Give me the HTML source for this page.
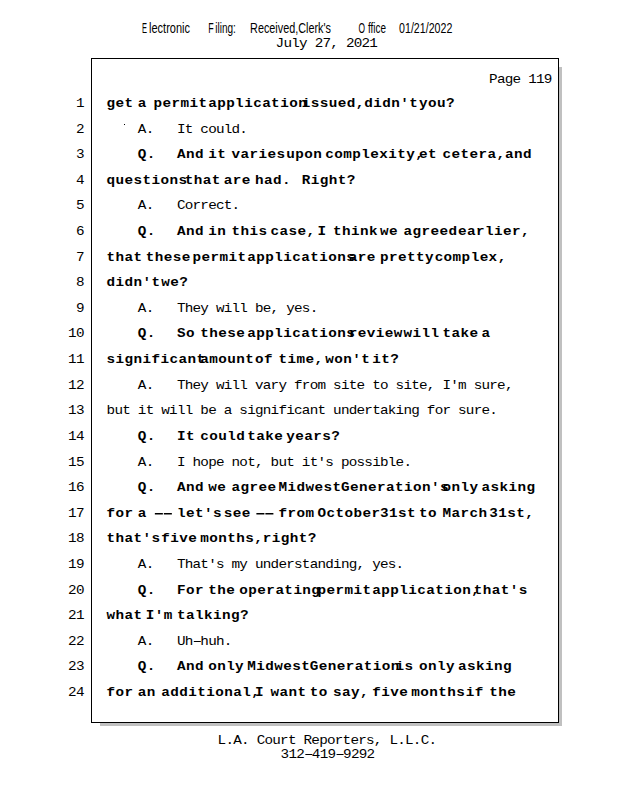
<!DOCTYPE html>
<html><head><meta charset="utf-8"><style>
html,body{margin:0;padding:0;background:#fff;}
body{width:618px;height:800px;overflow:hidden;position:relative;}
svg{position:absolute;left:0;top:0;}
.r{font-family:"Liberation Mono",monospace;font-size:13px;fill:#000;}
.b{font-family:"Liberation Mono",monospace;font-size:13px;font-weight:bold;fill:#000;}
.s{font-family:"Liberation Sans",sans-serif;font-size:14px;fill:#000;}
</style></head><body>
<svg width="618" height="800" viewBox="0 0 618 800">
<rect x="559" y="67" width="3" height="659" fill="#c0c0c0"/>
<rect x="100" y="723" width="462" height="3" fill="#c0c0c0"/>
<rect x="91.5" y="58.5" width="467" height="664" fill="#fff" stroke="#000" stroke-width="1"/>
<text class="s" x="141.9" y="33" textLength="5.0" lengthAdjust="spacingAndGlyphs">E</text>
<text class="s" x="149.0" y="33" textLength="41.0" lengthAdjust="spacingAndGlyphs">lectronic</text>
<text class="s" x="208.3" y="33" textLength="5.4" lengthAdjust="spacingAndGlyphs">F</text>
<text class="s" x="215.3" y="33" textLength="20.6" lengthAdjust="spacingAndGlyphs">iling:</text>
<text class="s" x="250.1" y="33" textLength="80.8" lengthAdjust="spacingAndGlyphs">Received,Clerk's</text>
<text class="s" x="358.5" y="33" textLength="6.5" lengthAdjust="spacingAndGlyphs">O</text>
<text class="s" x="368" y="33" textLength="18" lengthAdjust="spacingAndGlyphs">ffice</text>
<text class="s" x="399.1" y="33" textLength="53.2" lengthAdjust="spacingAndGlyphs">01/21/2022</text>
<rect x="124" y="124" width="1" height="1" fill="#000"/>
<text class="r" transform="scale(1.1,1)" x="69.00" y="107.00">1</text>
<text class="b" transform="scale(1.1,1)" x="96.92 105.10 113.28" y="107.00">get</text>
<text class="b" transform="scale(1.1,1)" x="125.32" y="107.00">a</text>
<text class="b" transform="scale(1.1,1)" x="139.52 147.70 155.88 164.06 172.25 180.43" y="107.00">permit</text>
<text class="b" transform="scale(1.1,1)" x="189.22 197.40 205.58 213.76 221.95 230.13 238.31 246.49 254.67 262.85 271.04" y="107.00">application</text>
<text class="b" transform="scale(1.1,1)" x="274.42 282.60 290.78 298.96 307.15 315.33 323.51" y="107.00">issued,</text>
<text class="b" transform="scale(1.1,1)" x="331.22 339.40 347.58 355.76 363.95 372.13" y="107.00">didn&#x27;t</text>
<text class="b" transform="scale(1.1,1)" x="380.92 389.10 397.28 405.46" y="107.00">you?</text>
<text class="r" transform="scale(1.1,1)" x="69.00" y="133.00">2</text>
<text class="r" transform="scale(1.1,1)" x="125.32 132.42 160.82 167.92 182.12 189.22 196.32 203.42 210.52 217.62" y="133.00">A.Itcould.</text>
<text class="r" transform="scale(1.1,1)" x="69.00" y="158.00">3</text>
<text class="b" transform="scale(1.1,1)" x="125.32 133.50" y="158.00">Q.</text>
<text class="b" transform="scale(1.1,1)" x="160.82 169.00 177.18" y="158.00">And</text>
<text class="b" transform="scale(1.1,1)" x="189.22 197.40" y="158.00">it</text>
<text class="b" transform="scale(1.1,1)" x="210.52 218.70 226.88 235.06 243.25 251.43" y="158.00">varies</text>
<text class="b" transform="scale(1.1,1)" x="260.22 268.40 276.58 284.76" y="158.00">upon</text>
<text class="b" transform="scale(1.1,1)" x="295.72 303.90 312.08 320.26 328.45 336.63 344.81 352.99 361.17 369.35 377.54" y="158.00">complexity,</text>
<text class="b" transform="scale(1.1,1)" x="380.92 389.10" y="158.00">et</text>
<text class="b" transform="scale(1.1,1)" x="402.22 410.40 418.58 426.76 434.95 443.13 451.31" y="158.00">cetera,</text>
<text class="b" transform="scale(1.1,1)" x="459.02 467.20 475.38" y="158.00">and</text>
<text class="r" transform="scale(1.1,1)" x="69.00" y="184.00">4</text>
<text class="b" transform="scale(1.1,1)" x="96.92 105.10 113.28 121.46 129.65 137.83 146.01 154.19 162.37" y="184.00">questions</text>
<text class="b" transform="scale(1.1,1)" x="167.92 176.10 184.28 192.46" y="184.00">that</text>
<text class="b" transform="scale(1.1,1)" x="203.42 211.60 219.78" y="184.00">are</text>
<text class="b" transform="scale(1.1,1)" x="231.82 240.00 248.18 256.36" y="184.00">had.</text>
<text class="b" transform="scale(1.1,1)" x="274.42 282.60 290.78 298.96 307.15 315.33" y="184.00">Right?</text>
<text class="r" transform="scale(1.1,1)" x="69.00" y="209.00">5</text>
<text class="r" transform="scale(1.1,1)" x="125.32 132.42 160.82 167.92 175.02 182.12 189.22 196.32 203.42 210.52" y="209.00">A.Correct.</text>
<text class="r" transform="scale(1.1,1)" x="69.00" y="235.00">6</text>
<text class="b" transform="scale(1.1,1)" x="125.32 133.50" y="235.00">Q.</text>
<text class="b" transform="scale(1.1,1)" x="160.82 169.00 177.18" y="235.00">And</text>
<text class="b" transform="scale(1.1,1)" x="189.22 197.40" y="235.00">in</text>
<text class="b" transform="scale(1.1,1)" x="210.52 218.70 226.88 235.06" y="235.00">this</text>
<text class="b" transform="scale(1.1,1)" x="246.02 254.20 262.38 270.56 278.75" y="235.00">case,</text>
<text class="b" transform="scale(1.1,1)" x="288.62" y="235.00">I</text>
<text class="b" transform="scale(1.1,1)" x="302.82 311.00 319.18 327.36 335.55" y="235.00">think</text>
<text class="b" transform="scale(1.1,1)" x="345.42 353.60" y="235.00">we</text>
<text class="b" transform="scale(1.1,1)" x="366.72 374.90 383.08 391.26 399.45 407.63" y="235.00">agreed</text>
<text class="b" transform="scale(1.1,1)" x="416.42 424.60 432.78 440.96 449.15 457.33 465.51 473.69" y="235.00">earlier,</text>
<text class="r" transform="scale(1.1,1)" x="69.00" y="261.00">7</text>
<text class="b" transform="scale(1.1,1)" x="96.92 105.10 113.28 121.46" y="261.00">that</text>
<text class="b" transform="scale(1.1,1)" x="132.42 140.60 148.78 156.96 165.15" y="261.00">these</text>
<text class="b" transform="scale(1.1,1)" x="175.02 183.20 191.38 199.56 207.75 215.93" y="261.00">permit</text>
<text class="b" transform="scale(1.1,1)" x="224.72 232.90 241.08 249.26 257.45 265.63 273.81 281.99 290.17 298.35 306.54 314.72" y="261.00">applications</text>
<text class="b" transform="scale(1.1,1)" x="317.02 325.20 333.38" y="261.00">are</text>
<text class="b" transform="scale(1.1,1)" x="345.42 353.60 361.78 369.96 378.15 386.33" y="261.00">pretty</text>
<text class="b" transform="scale(1.1,1)" x="395.12 403.30 411.48 419.66 427.85 436.03 444.21 452.39" y="261.00">complex,</text>
<text class="r" transform="scale(1.1,1)" x="69.00" y="286.00">8</text>
<text class="b" transform="scale(1.1,1)" x="96.92 105.10 113.28 121.46 129.65 137.83" y="286.00">didn&#x27;t</text>
<text class="b" transform="scale(1.1,1)" x="146.62 154.80 162.98" y="286.00">we?</text>
<text class="r" transform="scale(1.1,1)" x="69.00" y="312.00">9</text>
<text class="r" transform="scale(1.1,1)" x="125.32 132.42 160.82 167.92 175.02 182.12 196.32 203.42 210.52 217.62 231.82 238.92 246.02 260.22 267.32 274.42 281.52" y="312.00">A.Theywillbe,yes.</text>
<text class="r" transform="scale(1.1,1)" x="61.90 69.00" y="337.00">10</text>
<text class="b" transform="scale(1.1,1)" x="125.32 133.50" y="337.00">Q.</text>
<text class="b" transform="scale(1.1,1)" x="160.82 169.00" y="337.00">So</text>
<text class="b" transform="scale(1.1,1)" x="182.12 190.30 198.48 206.66 214.85" y="337.00">these</text>
<text class="b" transform="scale(1.1,1)" x="224.72 232.90 241.08 249.26 257.45 265.63 273.81 281.99 290.17 298.35 306.54 314.72" y="337.00">applications</text>
<text class="b" transform="scale(1.1,1)" x="317.02 325.20 333.38 341.56 349.75 357.93" y="337.00">review</text>
<text class="b" transform="scale(1.1,1)" x="366.72 374.90 383.08 391.26" y="337.00">will</text>
<text class="b" transform="scale(1.1,1)" x="402.22 410.40 418.58 426.76" y="337.00">take</text>
<text class="b" transform="scale(1.1,1)" x="437.72" y="337.00">a</text>
<text class="r" transform="scale(1.1,1)" x="61.90 69.00" y="363.00">11</text>
<text class="b" transform="scale(1.1,1)" x="96.92 105.10 113.28 121.46 129.65 137.83 146.01 154.19 162.37 170.55 178.74" y="363.00">significant</text>
<text class="b" transform="scale(1.1,1)" x="182.12 190.30 198.48 206.66 214.85 223.03" y="363.00">amount</text>
<text class="b" transform="scale(1.1,1)" x="231.82 240.00" y="363.00">of</text>
<text class="b" transform="scale(1.1,1)" x="253.12 261.30 269.48 277.66 285.85" y="363.00">time,</text>
<text class="b" transform="scale(1.1,1)" x="295.72 303.90 312.08 320.26 328.45" y="363.00">won&#x27;t</text>
<text class="b" transform="scale(1.1,1)" x="338.32 346.50 354.68" y="363.00">it?</text>
<text class="r" transform="scale(1.1,1)" x="61.90 69.00" y="389.00">12</text>
<text class="r" transform="scale(1.1,1)" x="125.32 132.42 160.82 167.92 175.02 182.12 196.32 203.42 210.52 217.62 231.82 238.92 246.02 253.12 267.32 274.42 281.52 288.62 302.82 309.92 317.02 324.12 338.32 345.42 359.62 366.72 373.82 380.92 388.02 402.22 409.32 416.42 430.62 437.72 444.82 451.92 459.02" y="389.00">A.Theywillvaryfromsitetosite,I&#x27;msure,</text>
<text class="r" transform="scale(1.1,1)" x="61.90 69.00" y="414.00">13</text>
<text class="r" transform="scale(1.1,1)" x="96.92 104.02 111.12 125.32 132.42 146.62 153.72 160.82 167.92 182.12 189.22 203.42 217.62 224.72 231.82 238.92 246.02 253.12 260.22 267.32 274.42 281.52 288.62 302.82 309.92 317.02 324.12 331.22 338.32 345.42 352.52 359.62 366.72 373.82 388.02 395.12 402.22 416.42 423.52 430.62 437.72 444.82" y="414.00">butitwillbeasignificantundertakingforsure.</text>
<text class="r" transform="scale(1.1,1)" x="61.90 69.00" y="440.00">14</text>
<text class="b" transform="scale(1.1,1)" x="125.32 133.50" y="440.00">Q.</text>
<text class="b" transform="scale(1.1,1)" x="160.82 169.00" y="440.00">It</text>
<text class="b" transform="scale(1.1,1)" x="182.12 190.30 198.48 206.66 214.85" y="440.00">could</text>
<text class="b" transform="scale(1.1,1)" x="224.72 232.90 241.08 249.26" y="440.00">take</text>
<text class="b" transform="scale(1.1,1)" x="260.22 268.40 276.58 284.76 292.95 301.13" y="440.00">years?</text>
<text class="r" transform="scale(1.1,1)" x="61.90 69.00" y="466.00">15</text>
<text class="r" transform="scale(1.1,1)" x="125.32 132.42 160.82 175.02 182.12 189.22 196.32 210.52 217.62 224.72 231.82 246.02 253.12 260.22 274.42 281.52 288.62 295.72 309.92 317.02 324.12 331.22 338.32 345.42 352.52 359.62 366.72" y="466.00">A.Ihopenot,butit&#x27;spossible.</text>
<text class="r" transform="scale(1.1,1)" x="61.90 69.00" y="491.00">16</text>
<text class="b" transform="scale(1.1,1)" x="125.32 133.50" y="491.00">Q.</text>
<text class="b" transform="scale(1.1,1)" x="160.82 169.00 177.18" y="491.00">And</text>
<text class="b" transform="scale(1.1,1)" x="189.22 197.40" y="491.00">we</text>
<text class="b" transform="scale(1.1,1)" x="210.52 218.70 226.88 235.06 243.25" y="491.00">agree</text>
<text class="b" transform="scale(1.1,1)" x="253.12 261.30 269.48 277.66 285.85 294.03 302.21" y="491.00">Midwest</text>
<text class="b" transform="scale(1.1,1)" x="309.92 318.10 326.28 334.46 342.65 350.83 359.01 367.19 375.37 383.55 391.74 399.92" y="491.00">Generation&#x27;s</text>
<text class="b" transform="scale(1.1,1)" x="402.22 410.40 418.58 426.76" y="491.00">only</text>
<text class="b" transform="scale(1.1,1)" x="437.72 445.90 454.08 462.26 470.45 478.63" y="491.00">asking</text>
<text class="r" transform="scale(1.1,1)" x="61.90 69.00" y="517.00">17</text>
<text class="b" transform="scale(1.1,1)" x="96.92 105.10 113.28" y="517.00">for</text>
<text class="b" transform="scale(1.1,1)" x="125.32" y="517.00">a</text>
<rect x="154.86" y="513.0" width="8" height="1.5"/>
<rect x="163.86" y="513.0" width="8" height="1.5"/>
<text class="b" transform="scale(1.1,1)" x="160.82 169.00 177.18 185.36 193.55" y="517.00">let&#x27;s</text>
<text class="b" transform="scale(1.1,1)" x="203.42 211.60 219.78" y="517.00">see</text>
<rect x="256.39" y="513.0" width="8" height="1.5"/>
<rect x="265.39" y="513.0" width="8" height="1.5"/>
<text class="b" transform="scale(1.1,1)" x="253.12 261.30 269.48 277.66" y="517.00">from</text>
<text class="b" transform="scale(1.1,1)" x="288.62 296.80 304.98 313.16 321.35 329.53 337.71" y="517.00">October</text>
<text class="b" transform="scale(1.1,1)" x="345.42 353.60 361.78 369.96" y="517.00">31st</text>
<text class="b" transform="scale(1.1,1)" x="380.92 389.10" y="517.00">to</text>
<text class="b" transform="scale(1.1,1)" x="402.22 410.40 418.58 426.76 434.95" y="517.00">March</text>
<text class="b" transform="scale(1.1,1)" x="444.82 453.00 461.18 469.36 477.55" y="517.00">31st,</text>
<text class="r" transform="scale(1.1,1)" x="61.90 69.00" y="542.00">18</text>
<text class="b" transform="scale(1.1,1)" x="96.92 105.10 113.28 121.46 129.65 137.83" y="542.00">that&#x27;s</text>
<text class="b" transform="scale(1.1,1)" x="146.62 154.80 162.98 171.16" y="542.00">five</text>
<text class="b" transform="scale(1.1,1)" x="182.12 190.30 198.48 206.66 214.85 223.03 231.21" y="542.00">months,</text>
<text class="b" transform="scale(1.1,1)" x="238.92 247.10 255.28 263.46 271.65 279.83" y="542.00">right?</text>
<text class="r" transform="scale(1.1,1)" x="61.90 69.00" y="568.00">19</text>
<text class="r" transform="scale(1.1,1)" x="125.32 132.42 160.82 167.92 175.02 182.12 189.22 196.32 210.52 217.62 231.82 238.92 246.02 253.12 260.22 267.32 274.42 281.52 288.62 295.72 302.82 309.92 317.02 324.12 338.32 345.42 352.52 359.62" y="568.00">A.That&#x27;smyunderstanding,yes.</text>
<text class="r" transform="scale(1.1,1)" x="61.90 69.00" y="594.00">20</text>
<text class="b" transform="scale(1.1,1)" x="125.32 133.50" y="594.00">Q.</text>
<text class="b" transform="scale(1.1,1)" x="160.82 169.00 177.18" y="594.00">For</text>
<text class="b" transform="scale(1.1,1)" x="189.22 197.40 205.58" y="594.00">the</text>
<text class="b" transform="scale(1.1,1)" x="217.62 225.80 233.98 242.16 250.35 258.53 266.71 274.89 283.07" y="594.00">operating</text>
<text class="b" transform="scale(1.1,1)" x="288.62 296.80 304.98 313.16 321.35 329.53" y="594.00">permit</text>
<text class="b" transform="scale(1.1,1)" x="338.32 346.50 354.68 362.86 371.05 379.23 387.41 395.59 403.77 411.95 420.14 428.32" y="594.00">application,</text>
<text class="b" transform="scale(1.1,1)" x="430.62 438.80 446.98 455.16 463.35 471.53" y="594.00">that&#x27;s</text>
<text class="r" transform="scale(1.1,1)" x="61.90 69.00" y="619.00">21</text>
<text class="b" transform="scale(1.1,1)" x="96.92 105.10 113.28 121.46" y="619.00">what</text>
<text class="b" transform="scale(1.1,1)" x="132.42 140.60 148.78" y="619.00">I&#x27;m</text>
<text class="b" transform="scale(1.1,1)" x="160.82 169.00 177.18 185.36 193.55 201.73 209.91 218.09" y="619.00">talking?</text>
<text class="r" transform="scale(1.1,1)" x="61.90 69.00" y="645.00">22</text>
<rect x="193.81" y="641" width="7" height="1"/>
<text class="r" transform="scale(1.1,1)" x="125.32 132.42 160.82 167.92 182.12 189.22 196.32 203.42" y="645.00">A.Uhhuh.</text>
<text class="r" transform="scale(1.1,1)" x="61.90 69.00" y="670.00">23</text>
<text class="b" transform="scale(1.1,1)" x="125.32 133.50" y="670.00">Q.</text>
<text class="b" transform="scale(1.1,1)" x="160.82 169.00 177.18" y="670.00">And</text>
<text class="b" transform="scale(1.1,1)" x="189.22 197.40 205.58 213.76" y="670.00">only</text>
<text class="b" transform="scale(1.1,1)" x="224.72 232.90 241.08 249.26 257.45 265.63 273.81" y="670.00">Midwest</text>
<text class="b" transform="scale(1.1,1)" x="281.52 289.70 297.88 306.06 314.25 322.43 330.61 338.79 346.97 355.15" y="670.00">Generation</text>
<text class="b" transform="scale(1.1,1)" x="359.62 367.80" y="670.00">is</text>
<text class="b" transform="scale(1.1,1)" x="380.92 389.10 397.28 405.46" y="670.00">only</text>
<text class="b" transform="scale(1.1,1)" x="416.42 424.60 432.78 440.96 449.15 457.33" y="670.00">asking</text>
<text class="r" transform="scale(1.1,1)" x="61.90 69.00" y="696.00">24</text>
<text class="b" transform="scale(1.1,1)" x="96.92 105.10 113.28" y="696.00">for</text>
<text class="b" transform="scale(1.1,1)" x="125.32 133.50" y="696.00">an</text>
<text class="b" transform="scale(1.1,1)" x="146.62 154.80 162.98 171.16 179.35 187.53 195.71 203.89 212.07 220.25 228.44" y="696.00">additional,</text>
<text class="b" transform="scale(1.1,1)" x="231.82" y="696.00">I</text>
<text class="b" transform="scale(1.1,1)" x="246.02 254.20 262.38 270.56" y="696.00">want</text>
<text class="b" transform="scale(1.1,1)" x="281.52 289.70" y="696.00">to</text>
<text class="b" transform="scale(1.1,1)" x="302.82 311.00 319.18 327.36" y="696.00">say,</text>
<text class="b" transform="scale(1.1,1)" x="338.32 346.50 354.68 362.86" y="696.00">five</text>
<text class="b" transform="scale(1.1,1)" x="373.82 382.00 390.18 398.36 406.55 414.73" y="696.00">months</text>
<text class="b" transform="scale(1.1,1)" x="423.52 431.70" y="696.00">if</text>
<text class="b" transform="scale(1.1,1)" x="444.82 453.00 461.18" y="696.00">the</text>
<text class="r" transform="scale(1.1,1)" x="250.55 257.65 264.75 271.85 286.05 293.15 300.25 314.45 321.55 328.65 335.75" y="47.00">July27,2021</text>
<text class="r" transform="scale(1.1,1)" x="444.65 451.75 458.85 465.95 480.15 487.25 494.35" y="83.00">Page119</text>
<text class="r" transform="scale(1.1,1)" x="197.83 204.93 212.03 219.13 233.33 240.43 247.53 254.63 261.73 275.93 283.03 290.13 297.23 304.33 311.43 318.53 325.63 332.73 339.83 354.03 361.13 368.23 375.33 382.43 389.53" y="744.00">L.A.CourtReporters,L.L.C.</text>
<rect x="305.33" y="754" width="7" height="1"/>
<rect x="336.57" y="754" width="7" height="1"/>
<text class="r" transform="scale(1.1,1)" x="255.10 262.20 269.30 283.50 290.60 297.70 311.90 319.00 326.10 333.20" y="758.00">3124199292</text>
</svg>
</body></html>
